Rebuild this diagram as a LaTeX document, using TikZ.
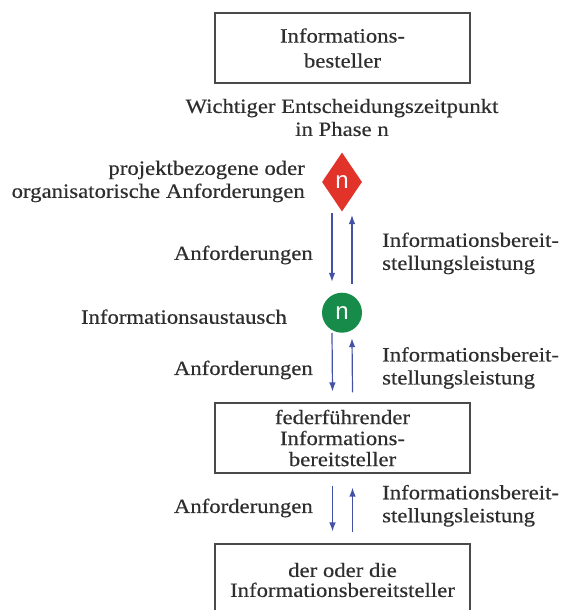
\documentclass[tikz,border=0pt]{standalone}
\usepackage{fontspec}
\setmainfont{Liberation Serif}[FakeStretch=1.12,FakeBold=0.4]
\newfontfamily\markfont{Liberation Sans}
\usetikzlibrary{shapes.geometric,arrows.meta}
\definecolor{txt}{HTML}{2E2E2E}
\definecolor{frame}{HTML}{4A4A4A}
\definecolor{flow}{HTML}{4452A6}
\definecolor{milestone}{HTML}{E2332A}
\definecolor{exchange}{HTML}{178C4A}

\begin{document}
\begin{tikzpicture}[x=1pt,y=-1pt,
  every node/.style={text=txt, font=\fontsize{20.3}{23}\selectfont, inner sep=0pt},
  partybox/.style={draw=frame, line width=1.1pt, minimum width=255pt,
    minimum height=70pt, align=center},
  lefttext/.style={anchor=east, align=right},
  righttext/.style={anchor=west, align=left},
  marktext/.style={text=white, font=\markfont\fontsize{24}{24}\selectfont},
  flowarrow/.style={draw=flow, line width=1.2pt, -{Latex[length=9pt,width=6.5pt]}},
  ]
\clip (0,0) rectangle (562,610);

% parties
\node[partybox, font=\fontsize{20.3}{25}\selectfont] (orderer) at (342.5,48)
  {Informations-\\besteller};
\node[partybox, font=\fontsize{20.3}{21}\selectfont] (lead) at (342.5,438)
  {federführender\\Informations-\\bereitsteller};
\node[partybox, minimum height=72pt, font=\fontsize{20.3}{20}\selectfont] (providers) at (342.5,580)
  {der oder die\\Informationsbereitsteller};

% decision point and exchange
\node[align=center] (decision) at (342,117.5)
  {Wichtiger Entscheidungszeitpunkt\\in Phase n};
\node[diamond, fill=milestone, minimum width=40pt, minimum height=59pt, marktext]
  (ms) at (342,182) {n};
\node[lefttext] (req) at (305,181.5)
  {projektbezogene oder\\organisatorische Anforderungen};
\node[circle, fill=exchange, minimum size=40pt, marktext] (ex) at (342,312.7) {n};
\node[lefttext] (exlabel) at (287,316.7) {Informationsaustausch};

% flows between decision point and exchange
\draw[flowarrow] ([xshift=-10pt,yshift=-1.3pt]ms.south) -- ([xshift=-10pt,yshift=10.7pt]ex.north);
\draw[flowarrow] ([xshift=10pt,yshift=8.7pt]ex.north) -- ([xshift=10pt,yshift=-3.3pt]ms.south);
\node[lefttext] (down1) at (313,255) {Anforderungen};
\node[righttext] (up1) at (382,253.4) {Informationsbereit-\\stellungsleistung};

% flows between exchange and lead provider
\draw[flowarrow] ([xshift=-10pt]ex.south) -- ([xshift=-10pt,yshift=11pt]lead.north);
\draw[flowarrow] ([xshift=10pt,yshift=10pt]lead.north) -- ([xshift=10pt,yshift=-5.3pt]ex.south);
\node[lefttext] (down2) at (313,370) {Anforderungen};
\node[righttext] (up2) at (382,368) {Informationsbereit-\\stellungsleistung};

% flows between lead provider and providers
\draw[flowarrow] ([xshift=-10pt,yshift=-12pt]lead.south) -- ([xshift=-10pt,yshift=12pt]providers.north);
\draw[flowarrow] ([xshift=10pt,yshift=11pt]providers.north) -- ([xshift=10pt,yshift=-14pt]lead.south);
\node[lefttext] (down3) at (313,508) {Anforderungen};
\node[righttext] (up3) at (382,505.8) {Informationsbereit-\\stellungsleistung};
\end{tikzpicture}
\end{document}
